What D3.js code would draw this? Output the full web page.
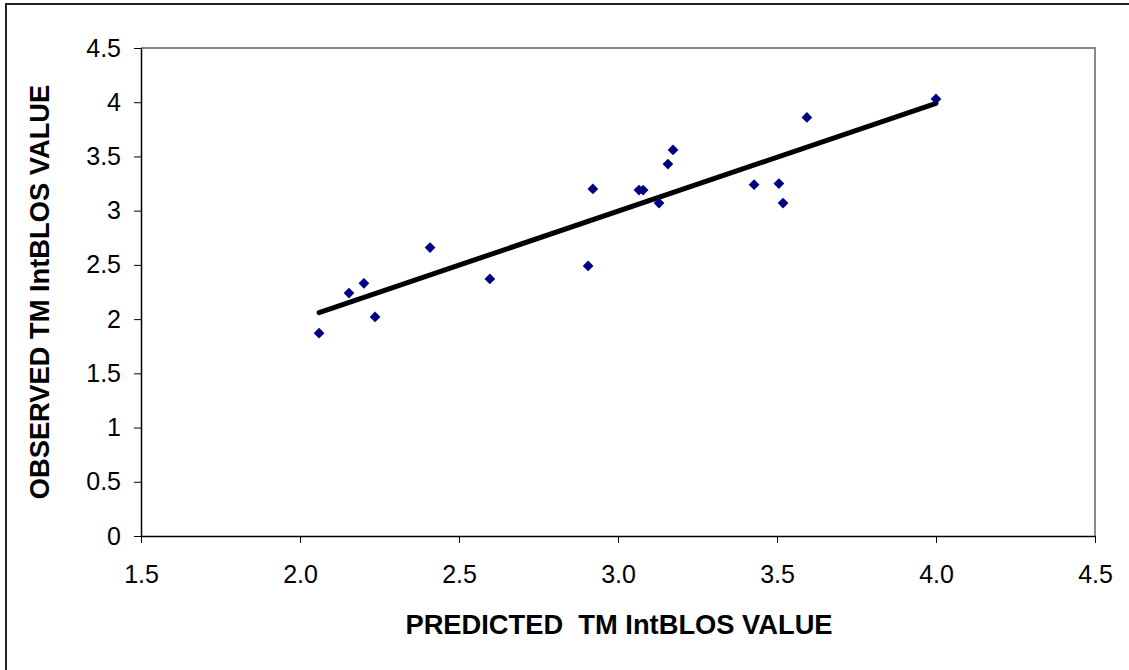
<!DOCTYPE html>
<html>
<head>
<meta charset="utf-8">
<script src="https://cdn.jsdelivr.net/npm/d3@7"></script>
<style>
	body { margin: 0; background: white; }
	text { font-family: "Liberation Sans", Arial, sans-serif; }
</style>
</head>
<body>
<svg id="chart" width="1129" height="670"></svg>
<script>
const predicted = [2.06, 2.154, 2.201, 2.236, 2.409, 2.597, 2.906, 2.921, 3.066, 3.079, 3.129, 3.157, 3.173, 3.428, 3.506, 3.519, 3.594, 4.0];
const observed = [1.87, 2.24, 2.33, 2.02, 2.66, 2.37, 2.49, 3.2, 3.19, 3.19, 3.07, 3.43, 3.56, 3.24, 3.25, 3.07, 3.86, 4.03];
const trendX = [2.06, 4.0];
const trendY = [2.06, 3.99];
const xTicks = [1.5, 2.0, 2.5, 3.0, 3.5, 4.0, 4.5];
const yTicks = [0, 0.5, 1, 1.5, 2, 2.5, 3, 3.5, 4, 4.5];

const svg = d3.select("#chart");
const plotLeft = 141, plotRight = 1095, plotTop = 48, plotBottom = 536;

const x = d3.scaleLinear([1.5, 4.5], [plotLeft, plotRight]);
const y = d3.scaleLinear([0, 4.5], [plotBottom, plotTop]);

// outer chart frame
svg.append("rect")
	.attr("x", 6).attr("y", 4)
	.attr("width", 1140).attr("height", 700)
	.attr("fill", "none")
	.attr("stroke", "#222")
	.attr("stroke-width", 2);

// plot area border (top and right gray)
svg.append("path")
	.attr("d", `M${plotLeft},${plotTop}H${plotRight}V${plotBottom}`)
	.attr("fill", "none")
	.attr("stroke", "#888")
	.attr("stroke-width", 2);

const xAxis = svg.append("g")
	.attr("transform", `translate(0,${plotBottom})`)
	.call(d3.axisBottom(x).tickValues(xTicks).tickFormat(d3.format(".1f")).tickSizeOuter(0).tickSizeInner(7).tickPadding(22));

const yAxis = svg.append("g")
	.attr("transform", `translate(${plotLeft},0)`)
	.call(d3.axisLeft(y).tickValues(yTicks).tickFormat(d => d).tickSizeOuter(0).tickSizeInner(7).tickPadding(13));

[xAxis, yAxis].forEach(g => {
	g.select(".domain").attr("stroke", "#000").attr("stroke-width", 1.5);
	g.selectAll(".tick line").attr("stroke", "#000");
	g.selectAll(".tick text")
		.attr("fill", "#000")
		.style("font-size", "25px")
		.style("font-family", "'Liberation Sans', Arial, sans-serif");
});

// trend line
svg.append("line")
	.attr("x1", x(trendX[0])).attr("y1", y(trendY[0]))
	.attr("x2", x(trendX[1])).attr("y2", y(trendY[1]))
	.attr("stroke", "#000")
	.attr("stroke-width", 5)
	.attr("stroke-linecap", "round");

// points
svg.append("g")
	.selectAll("path")
	.data(predicted.map((p, i) => [p, observed[i]]))
	.join("path")
	.attr("d", d3.symbol(d3.symbolSquare, 58))
	.attr("transform", d => `translate(${x(d[0])},${y(d[1])}) rotate(45)`)
	.attr("fill", "#000080");

svg.append("text")
	.attr("x", 619)
	.attr("y", 634)
	.attr("text-anchor", "middle")
	.attr("xml:space", "preserve")
	.style("font-size", "27.3px")
	.style("font-weight", "bold")
	.text("PREDICTED  TM IntBLOS VALUE");

svg.append("text")
	.attr("transform", `translate(49,${(plotTop + plotBottom) / 2}) rotate(-90)`)
	.attr("text-anchor", "middle")
	.style("font-size", "27.3px")
	.style("font-weight", "bold")
	.text("OBSERVED TM IntBLOS VALUE");
</script>
</body>
</html>
